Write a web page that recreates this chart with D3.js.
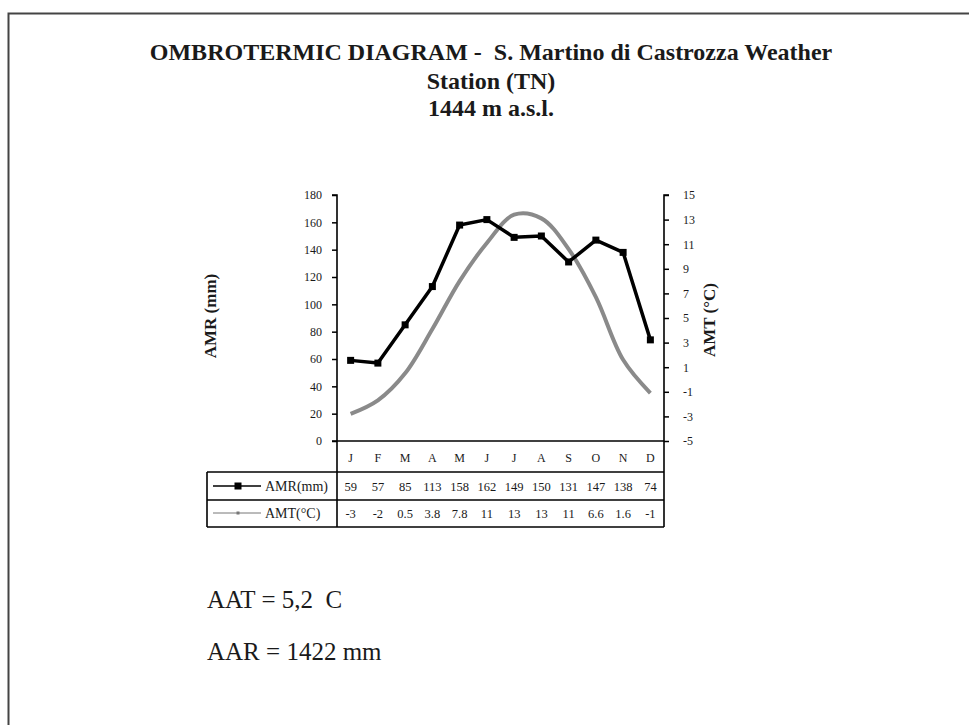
<!DOCTYPE html>
<html>
<head>
<meta charset="utf-8">
<script src="https://cdn.jsdelivr.net/npm/d3@7"></script>
<style>
  body { margin: 0; background: #fff; }
  svg text { font-family: "Liberation Serif", "Times New Roman", serif; fill: #1a1a1a; white-space: pre; }
</style>
</head>
<body>
<svg id="chart" width="969" height="725"></svg>
<script>
// dati del diagramma
const months = ['J', 'F', 'M', 'A', 'M', 'J', 'J', 'A', 'S', 'O', 'N', 'D'];
const amr = [59, 57, 85, 113, 158, 162, 149, 150, 131, 147, 138, 74];
// temperature (la tabella riporta i valori arrotondati)
const amt = [-2.8, -1.7, 0.5, 4.1, 8.0, 11.1, 13.4, 13.1, 10.6, 6.7, 1.6, -1.1];
const amtTable = ['-3', '-2', '0.5', '3.8', '7.8', '11', '13', '13', '11', '6.6', '1.6', '-1'];
const amrTicks = [0, 20, 40, 60, 80, 100, 120, 140, 160, 180];
const amtTicks = [-5, -3, -1, 1, 3, 5, 7, 9, 11, 13, 15];
const titleLines = ['OMBROTERMIC DIAGRAM -  S. Martino di Castrozza Weather', 'Station (TN)', '1444 m a.s.l.'];
const notes = ['AAT = 5,2  C', 'AAR = 1422 mm'];

const svg = d3.select('#chart');

// cornice
svg.append('path')
  .attr('d', 'M8.5,725 V13.5 H969')
  .attr('fill', 'none')
  .attr('stroke', '#444')
  .attr('stroke-width', 2);

// titolo
svg.append('g').selectAll('text')
  .data(titleLines)
  .enter().append('text')
  .attr('x', 491)
  .attr('y', (d, i) => [60, 89, 116][i])
  .attr('text-anchor', 'middle')
  .attr('font-size', 24)
  .attr('font-weight', 'bold')
  .text((d) => d);

const pLeft = 337, pRight = 664, pTop = 195, pBottom = 441;

const x = d3.scaleBand().domain(d3.range(12)).range([pLeft, pRight]);
const yL = d3.scaleLinear().domain([0, 180]).range([pBottom, pTop]);
const yR = d3.scaleLinear().domain([-5, 15]).range([pBottom, pTop]);

// assi
const axL = svg.append('g')
  .attr('transform', `translate(${pLeft},0)`)
  .call(d3.axisLeft(yL).tickValues(amrTicks).tickSize(5).tickPadding(10));
const axR = svg.append('g')
  .attr('transform', `translate(${pRight},0)`)
  .call(d3.axisRight(yR).tickValues(amtTicks).tickSize(5).tickPadding(14)
    .tickFormat((d) => String(d)));
[axL, axR].forEach((g) => {
  g.select('.domain').attr('stroke', '#000').attr('stroke-width', 1.6);
  g.selectAll('.tick line').attr('stroke', '#000').attr('stroke-width', 1.5);
  g.selectAll('.tick text').attr('font-size', 12).attr('fill', '#222')
    .attr('font-family', '"Liberation Serif", serif');
});
axL.select('.domain').attr('d', `M-5,${pTop}H0V${pBottom}`);
axR.select('.domain').attr('d', `M5,${pTop}H0V${pBottom}`);

// asse x e tabella
const tbl = svg.append('g').attr('stroke', '#000').attr('stroke-width', 1.6);
const rowY = [pBottom, 472, 500, 527];
tbl.append('line').attr('x1', pLeft - 5).attr('x2', pRight).attr('y1', pBottom).attr('y2', pBottom);
tbl.append('line').attr('x1', 207).attr('x2', pRight).attr('y1', rowY[1]).attr('y2', rowY[1]);
tbl.append('line').attr('x1', 207).attr('x2', pRight).attr('y1', rowY[2]).attr('y2', rowY[2]);
tbl.append('line').attr('x1', 207).attr('x2', pRight).attr('y1', rowY[3]).attr('y2', rowY[3]);
tbl.append('line').attr('x1', pLeft).attr('x2', pLeft).attr('y1', pBottom).attr('y2', rowY[3]);
tbl.append('line').attr('x1', pRight).attr('x2', pRight).attr('y1', pBottom).attr('y2', rowY[3]);
tbl.append('line').attr('x1', 207).attr('x2', 207).attr('y1', rowY[1]).attr('y2', rowY[3]);

const cell = (arr, yy, fs) => svg.append('g').selectAll('text')
  .data(arr)
  .enter().append('text')
  .attr('x', (d, i) => x(i) + x.bandwidth() / 2)
  .attr('y', yy)
  .attr('text-anchor', 'middle')
  .attr('font-size', fs)
  .text((d) => d);
cell(months, 462, 12);
cell(amr, 491, 12.5);
cell(amtTable, 518, 12.5);

// legenda nella tabella
const leg = [
  { label: 'AMR(mm)', color: '#000', w: 1.6, m: 7, y: 486 },
  { label: 'AMT(°C)', color: '#777', w: 1, m: 3, y: 513 },
];
leg.forEach((l) => {
  svg.append('line').attr('x1', 213).attr('x2', 261).attr('y1', l.y).attr('y2', l.y)
    .attr('stroke', l.color).attr('stroke-width', l.w);
  svg.append('rect').attr('x', 238 - l.m / 2).attr('y', l.y - l.m / 2)
    .attr('width', l.m).attr('height', l.m).attr('fill', l.color);
  svg.append('text').attr('x', 265).attr('y', l.y + 4.5).attr('font-size', 14)
    .text(l.label);
});

// curve
const cx = (d, i) => x(i) + x.bandwidth() / 2;
svg.append('path')
  .datum(amt)
  .attr('fill', 'none')
  .attr('stroke', '#8a8a8a')
  .attr('stroke-width', 4)
  .attr('d', d3.line().x(cx).y((d) => yR(d)).curve(d3.curveCatmullRom.alpha(0.5)));

svg.append('path')
  .datum(amr)
  .attr('fill', 'none')
  .attr('stroke', '#000')
  .attr('stroke-width', 3.5)
  .attr('stroke-linejoin', 'round')
  .attr('d', d3.line().x(cx).y((d) => yL(d)));
svg.append('g').selectAll('rect')
  .data(amr)
  .enter().append('rect')
  .attr('x', (d, i) => cx(d, i) - 3.5)
  .attr('y', (d) => yL(d) - 3.5)
  .attr('width', 7)
  .attr('height', 7)
  .attr('fill', '#000');

// titoli degli assi
svg.append('text')
  .attr('transform', 'translate(216,316) rotate(-90)')
  .attr('text-anchor', 'middle')
  .attr('font-size', 17)
  .attr('font-weight', 'bold')
  .text('AMR (mm)');
svg.append('text')
  .attr('transform', 'translate(715,320) rotate(-90)')
  .attr('text-anchor', 'middle')
  .attr('font-size', 17)
  .attr('font-weight', 'bold')
  .text('AMT (°C)');

// valori annuali
svg.append('g').selectAll('text')
  .data(notes)
  .enter().append('text')
  .attr('x', 207)
  .attr('y', (d, i) => 608 + i * 52)
  .attr('font-size', 25)
  .text((d) => d);
</script>
</body>
</html>
